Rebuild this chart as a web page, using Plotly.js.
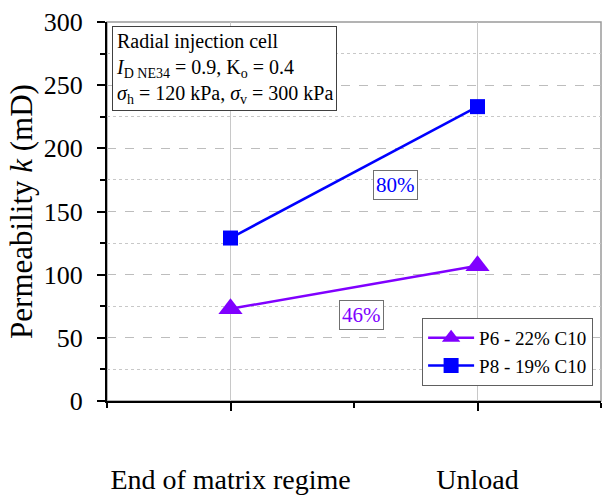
<!DOCTYPE html>
<html>
<head>
<meta charset="utf-8">
<script src="https://cdn.plot.ly/plotly-3.0.1.min.js"></script>
<style>html,body{margin:0;padding:0;background:#fff;}#chart{width:603px;height:498px;}</style>
</head>
<body>
<div id="chart"></div>
<script>
// Data
const stageX = [1, 2];
const categoryLabels = ["End of matrix regime", "Unload"];
const p6Name = "P6 - 22% C10";
const p6Values = [73, 107];
const p8Name = "P8 - 19% C10";
const p8Values = [129, 233];
const pctLabels = ["46%", "80%"];
const pctX = [1.53, 1.67];
const pctY = [68, 171];

const FONT = "Liberation Serif";
const purple = "#8000FF";
const blue = "#0000FF";

const traces = [
  {
    x: stageX, y: p6Values, name: p6Name, type: "scatter", mode: "lines+markers",
    line: {color: purple, width: 2.5},
    marker: {symbol: "triangle-up", size: 21, color: purple}
  },
  {
    x: stageX, y: p8Values, name: p8Name, type: "scatter", mode: "lines+markers",
    line: {color: blue, width: 2.5},
    marker: {symbol: "square", size: 15, color: blue}
  }
];

const layout = {
  width: 603, height: 498,
  margin: {l: 107, r: 2, t: 22, b: 97},
  paper_bgcolor: "#fff", plot_bgcolor: "#fff",
  font: {family: FONT, color: "#000", size: 20},
  showlegend: true,
  legend: {
    x: 0.984, xanchor: "right", y: 0.04, yanchor: "bottom",
    bgcolor: "#fff", bordercolor: "#606060", borderwidth: 1,
    font: {family: FONT, size: 19, color: "#000"},
    itemwidth: 46, tracegroupgap: 0
  },
  xaxis: {
    range: [0.5, 2.5], tickvals: stageX, ticktext: categoryLabels,
    showline: true, linecolor: "#000", linewidth: 2,
    ticks: "outside", ticklen: 8, tickwidth: 2, tickcolor: "#000",
    ticklabelstandoff: 44,
    tickfont: {family: FONT, size: 28, color: "#000"},
    showgrid: true, gridcolor: "#c8c8c8", gridwidth: 1.5,
    minor: {tickvals: [0.5, 1.5, 2.5], ticks: "outside", ticklen: 5, tickwidth: 2, tickcolor: "#000", showgrid: false},
    zeroline: false, fixedrange: true
  },
  yaxis: {
    range: [0, 300], tick0: 0, dtick: 50,
    showline: true, linecolor: "#000", linewidth: 2,
    ticks: "outside", ticklen: 8, tickwidth: 2, tickcolor: "#000",
    ticklabelstandoff: 9,
    tickfont: {family: FONT, size: 26, color: "#000"},
    showgrid: true, gridcolor: "#bdbdbd", gridwidth: 1, griddash: "dash",
    minor: {dtick: 25, ticks: "outside", ticklen: 5, tickwidth: 2, tickcolor: "#000", showgrid: true, gridcolor: "#c8c8c8", gridwidth: 1, griddash: "dot"},
    zeroline: false,
    title: {text: "Permeability <i>k</i> (mD)", font: {family: FONT, size: 31, color: "#000"}, standoff: 2},
    fixedrange: true
  },
  shapes: [
    {type: "rect", xref: "paper", yref: "paper", x0: 0, x1: 1, y0: 0, y1: 1,
     line: {color: "#9a9a9a", width: 1.5}, layer: "below"}
  ],
  annotations: [
    {
      xref: "paper", yref: "paper", x: 0.01, y: 0.99, xanchor: "left", yanchor: "top",
      text: "Radial injection cell<br><i>I</i><sub>D NE34</sub> = 0.9, K<sub>o</sub> = 0.4<br><i>σ</i><sub>h</sub> = 120 kPa, <i>σ</i><sub>v</sub> = 300 kPa",
      align: "left", showarrow: false, font: {family: FONT, size: 20, color: "#000"},
      bgcolor: "#fff", bordercolor: "#404040", borderwidth: 1, borderpad: 3
    },
    {
      x: pctX[0], y: pctY[0], text: pctLabels[0], showarrow: false,
      font: {family: FONT, size: 21, color: purple},
      bgcolor: "#fff", bordercolor: "#707070", borderwidth: 1, borderpad: 2
    },
    {
      x: pctX[1], y: pctY[1], text: pctLabels[1], showarrow: false,
      font: {family: FONT, size: 21, color: blue},
      bgcolor: "#fff", bordercolor: "#707070", borderwidth: 1, borderpad: 2
    }
  ]
};

Plotly.newPlot("chart", traces, layout, {displayModeBar: false, staticPlot: true});
</script>
</body>
</html>
